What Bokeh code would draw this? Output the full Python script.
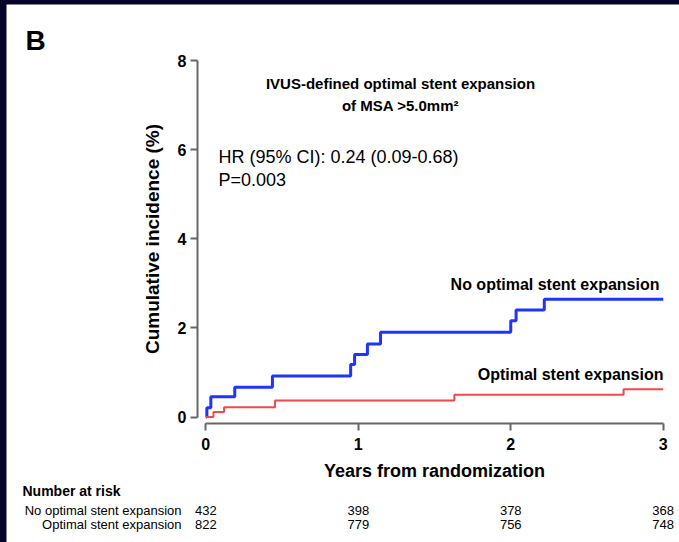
from bokeh.plotting import figure
from bokeh.models import Label, Range1d, FixedTicker
from bokeh.layouts import column
from bokeh.embed import file_html
from bokeh.resources import INLINE

# ---- data ----
blue_t = [0, 0.007, 0.033, 0.19, 0.437, 0.95, 0.976, 1.06, 1.146, 2.0, 2.035, 2.22, 3.0]
blue_v = [0, 0.21, 0.455, 0.67, 0.92, 1.18, 1.40, 1.64, 1.90, 2.16, 2.40, 2.64, 2.64]
red_t = [0, 0.05, 0.12, 0.454, 1.63, 2.74, 3.0]
red_v = [0, 0.11, 0.22, 0.37, 0.50, 0.62, 0.62]

x_ticks = [0, 1, 2, 3]
y_ticks = [0, 2, 4, 6, 8]
risk_times = [0, 1, 2, 3]
risk_no_opt = [432, 398, 378, 368]
risk_opt = [822, 779, 756, 748]
group_names = ["No optimal stent expansion", "Optimal stent expansion"]

# page-pixel to data helpers
X0, XS = 205.3, 152.47
Y0, YS = 416.5, 44.56


def dx(px):
    return (px - X0) / XS


def dy(py):
    return (Y0 - py) / YS


FONT = "Liberation Sans"

p = figure(width=673, height=538, output_backend="svg", toolbar_location=None,
           x_range=Range1d(dx(6), dx(679)), y_range=Range1d(dy(542), dy(4)),
           min_border_left=0, min_border_right=0, min_border_top=0,
           min_border_bottom=0)
p.margin = (4, 0, 0, 6)
p.outline_line_color = None
p.grid.visible = False
p.background_fill_color = "white"
p.border_fill_color = "white"

p.step(blue_t, blue_v, mode="after", line_color="#1f35ff", line_width=3)
p.step(red_t, red_v, mode="after", line_color="#f2474b", line_width=2)

for ax in (p.xaxis[0], p.yaxis[0]):
    ax.axis_line_color = "#666666"
    ax.axis_line_width = 2
    ax.major_tick_line_color = "#666666"
    ax.major_tick_line_width = 2
    ax.major_tick_out = 7
    ax.major_tick_in = 0
    ax.minor_tick_line_color = None
    ax.major_label_text_font = FONT
    ax.major_label_text_font_style = "bold"
    ax.major_label_text_font_size = "16px"
    ax.major_label_text_color = "black"
    ax.axis_label_text_font = FONT
    ax.axis_label_text_font_style = "bold"
    ax.axis_label_text_color = "black"

p.xaxis.ticker = FixedTicker(ticks=x_ticks)
p.xaxis.bounds = (x_ticks[0], x_ticks[-1])
p.xaxis.fixed_location = dy(423)
p.yaxis.ticker = FixedTicker(ticks=y_ticks)
p.yaxis.bounds = (y_ticks[0], y_ticks[-1])
p.yaxis.fixed_location = dx(197)
p.xaxis.major_label_standoff = 7
p.yaxis.major_label_standoff = 4
p.xaxis.axis_label = "Years from randomization"
p.xaxis.axis_label_text_font_size = "18px"
p.xaxis.axis_label_standoff = 8
p.yaxis.axis_label = "Cumulative incidence (%)"
p.yaxis.axis_label_text_font_size = "19px"
p.yaxis.axis_label_standoff = 12


def lab(x, y, text, size, bold=False, align="left"):
    p.add_layout(Label(x=x, y=y, text=text, text_font=FONT,
                       text_font_size=size, text_font_style="bold" if bold else "normal",
                       text_color="black", text_align=align, text_baseline="middle"))


lab(dx(25), dy(40), "B", "28px", bold=True)
lab(dx(400), dy(83), "IVUS-defined optimal stent expansion", "15px", bold=True, align="center")
lab(dx(400), dy(105), "of MSA >5.0mm\u00b2", "15px", bold=True, align="center")
lab(dx(218), dy(156), "HR (95% CI): 0.24 (0.09-0.68)", "18px")
lab(dx(218), dy(179), "P=0.003", "18px")
lab(dx(659), dy(284), group_names[0], "16px", bold=True, align="right")
lab(dx(663), dy(374), group_names[1], "16px", bold=True, align="right")

lab(dx(22), dy(490), "Number at risk", "14px", bold=True)
lab(dx(181), dy(510), group_names[0], "13px", align="right")
lab(dx(181), dy(524), group_names[1], "13px", align="right")
for t, a, b in zip(risk_times, risk_no_opt, risk_opt):
    lab(t, dy(510), str(a), "13px", align="center")
    lab(t, dy(524), str(b), "13px", align="center")

layout = column(p, width=679, height=542,
                styles={"background-color": "#05052b"})

open("out.html", "w").write(file_html(layout, INLINE))
